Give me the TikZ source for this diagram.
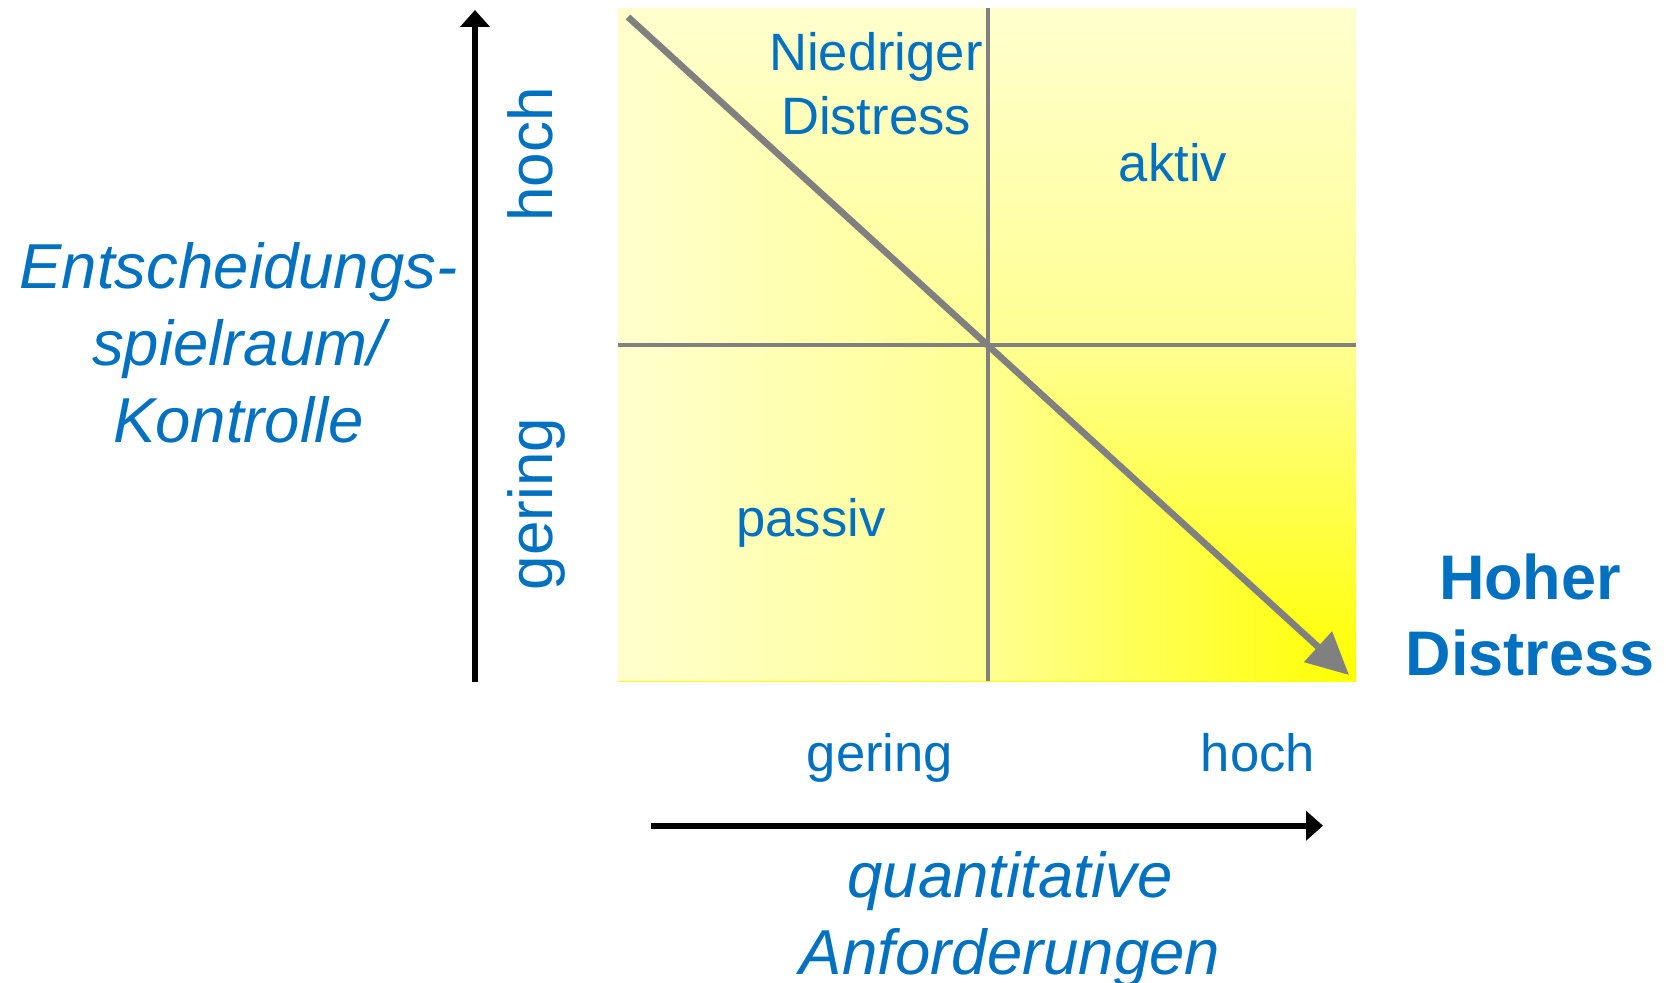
\documentclass[tikz,border=0pt]{standalone}
\usepackage{fontspec}
\setmainfont{Liberation Sans}
\usetikzlibrary{arrows.meta}
\definecolor{lblue}{HTML}{0070C0}
\definecolor{lgray}{HTML}{808080}
\definecolor{paleyellow}{HTML}{FFFFCE}
\definecolor{midyellow}{HTML}{FFFF92}
\pgfdeclareverticalshading{distressv}{100bp}{color(0bp)=(yellow); color(25bp)=(yellow); color(50bp)=(midyellow); color(75bp)=(paleyellow); color(100bp)=(paleyellow)}
\pgfdeclarehorizontalshading{distressh}{100bp}{color(0bp)=(paleyellow); color(25bp)=(paleyellow); color(50bp)=(midyellow); color(75bp)=(yellow); color(100bp)=(yellow)}

\begin{document}
\begin{tikzpicture}[x=0.5pt,y=0.5pt,
  lbl/.style={text=lblue,inner sep=0pt,anchor=base,font=\fontsize{26.3}{31.8}\selectfont},
  rotlbl/.style={lbl,rotate=90,font=\fontsize{31}{37}\selectfont},
  axlbl/.style={lbl,align=center,font=\fontsize{31.75}{38.25}\selectfont\itshape},
  axis/.style={line width=3pt,-{Triangle[length=8.5pt,width=14.5pt]}},
  grid/.style={lgray,line width=1.6pt}]
  \useasboundingbox (0,0) rectangle (1666,982);
  \shade[shading=distressv] (618,301) rectangle (1356,973.5);
  \begin{scope}
    \clip (1356,301) -- (618,301) -- (618,973.5) -- cycle;
    \shade[shading=distressh] (618,301) rectangle (1356,973.5);
  \end{scope}
  \draw[grid] (618,637) -- (1356,637);
  \draw[grid] (988,301) -- (988,973.5);
  \coordinate (dtop) at (628,965);
  \coordinate (dbot) at (1349,307);
  \draw[lgray,line width=3.3pt,-{Triangle[length=21pt,width=20pt]}] (dtop) -- (dbot);
  \coordinate (ybot) at (475,300.5);
  \coordinate (ytop) at (475,972);
  \draw[axis] (ybot) -- (ytop);
  \coordinate (xleft) at (651,156.3);
  \coordinate (xright) at (1323,156.3);
  \draw[axis] (xleft) -- (xright);
  \node[lbl,align=center] (niedrig) at (876,847.7) {Niedriger\\Distress};
  \node[lbl] (aktiv) at (1173,800.3) {aktiv};
  \node[lbl] (passiv) at (811,445.3) {passiv};
  \node[rotlbl] (yhoch) at (552,827.5) {hoch};
  \node[rotlbl] (ygering) at (552,478) {gering};
  \node[lbl] (xgering) at (880,211) {gering};
  \node[lbl] (xhoch) at (1258,211) {hoch};
  \node[axlbl] (ylabel) at (238.5,540) {Entscheidungs-\\spielraum/\\Kontrolle};
  \node[axlbl] (xlabel) at (1010,8) {quantitative\\Anforderungen};
  \node[lbl,align=center,font=\fontsize{31.5}{38}\selectfont\bfseries] (hoher) at (1530,307) {Hoher\\Distress};
\end{tikzpicture}
\end{document}
